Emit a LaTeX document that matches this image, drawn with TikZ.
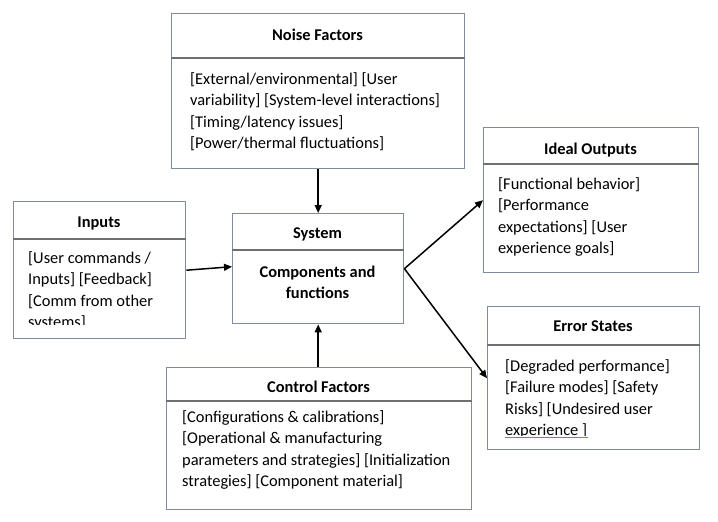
\documentclass[tikz,border=0pt]{standalone}
\usepackage{fontspec}
\setmainfont{Carlito}
\usetikzlibrary{arrows.meta}
\definecolor{boxline}{RGB}{128,138,160}
\definecolor{divline}{RGB}{112,112,112}
\definecolor{spell}{RGB}{90,130,215}
\newcommand{\diagfont}{\fontsize{16.4}{21.5}\selectfont}
\begin{document}
\begin{tikzpicture}[x=1pt,y=-1pt,
  box/.style={draw=boxline,line width=1.4pt,anchor=north west,inner sep=0pt,fill=white},
  divider/.style={draw=divline,line width=1.2pt},
  title/.style={anchor=base,inner sep=0pt,font=\diagfont\bfseries},
  body/.style={anchor=north west,inner sep=0pt,align=left,font=\diagfont},
  arr/.style={line width=1.5pt,-{Triangle[length=8pt,width=7pt]}}]
\useasboundingbox (0,0) rectangle (718,522);
% boxes
\node[box,minimum width=293pt,minimum height=155pt] (noise) at (171,13) {};
\node[box,minimum width=215pt,minimum height=145pt] (ideal) at (483,127) {};
\node[box,minimum width=172pt,minimum height=137pt] (inputs) at (13,201) {};
\node[box,minimum width=171pt,minimum height=110pt] (system) at (232,213) {};
\node[box,minimum width=212pt,minimum height=143pt] (error) at (487,306) {};
\node[box,minimum width=305pt,minimum height=142pt] (control) at (166,367) {};
% dividers
\draw[divider] (noise.west |- 0,58) -- (noise.east |- 0,58);
\draw[divider] (ideal.west |- 0,164) -- (ideal.east |- 0,164);
\draw[divider] (inputs.west |- 0,239) -- (inputs.east |- 0,239);
\draw[divider] (system.west |- 0,250) -- (system.east |- 0,250);
\draw[divider] (error.west |- 0,345) -- (error.east |- 0,345);
\draw[divider] (control.west |- 0,401) -- (control.east |- 0,401);
% titles
\node[title] (tnoise) at (317.5,40) {Noise Factors};
\node[title] (tideal) at (590.5,154) {Ideal Outputs};
\node[title] (tinputs) at (99,227) {Inputs};
\node[title] (tsystem) at (317.5,238) {System};
\node[title] (terror) at (593,331) {Error States};
\node[title] (tcontrol) at (318.5,392) {Control Factors};
% bodies
\node[body] (bnoise) at (190,69) {\strut[External/environmental] [User\\variability] [System-level interactions]\\{}[Timing/latency issues]\\{}[Power/thermal fluctuations]};
\node[body] (bideal) at (498,174) {\strut[Functional behavior]\\{}[Performance\\expectations] [User\\experience goals]};
\node[body,align=center,anchor=north,font=\diagfont\bfseries] (bsystem) at (317.5,262) {\strut Components and\\functions};
\node[body] (bcontrol) at (182,407) {\strut[Configurations \& calibrations]\\{}[Operational \& manufacturing\\parameters and strategies] [Initialization\\strategies] [Component material]};
\begin{scope}
  \clip (14,240) rectangle (184,324);
  \node[body] (binputs) at (28,248) {\strut[User commands /\\Inputs] [Feedback]\\{}[Comm from other\\systems]};
\end{scope}
\begin{scope}
  \clip (488,346) rectangle (698,435.5);
  \node[body] (berror) at (505,356) {\strut[Degraded performance]\\{}[Failure modes] [Safety\\Risks] [Undesired user\\experience ]};
\end{scope}
\draw[spell,line width=0.8pt] (505,437) -- (588,437);
% connectors
\draw[arr] (noise.south) -- (system.north);
\draw[arr] (system.south |- control.north) -- (system.south);
\draw[arr] (inputs.east) -- ([yshift=2pt]system.west);
\draw[arr] (system.east) -- (ideal.west);
\draw[arr] (system.east) -- (error.west);
\end{tikzpicture}
\end{document}
